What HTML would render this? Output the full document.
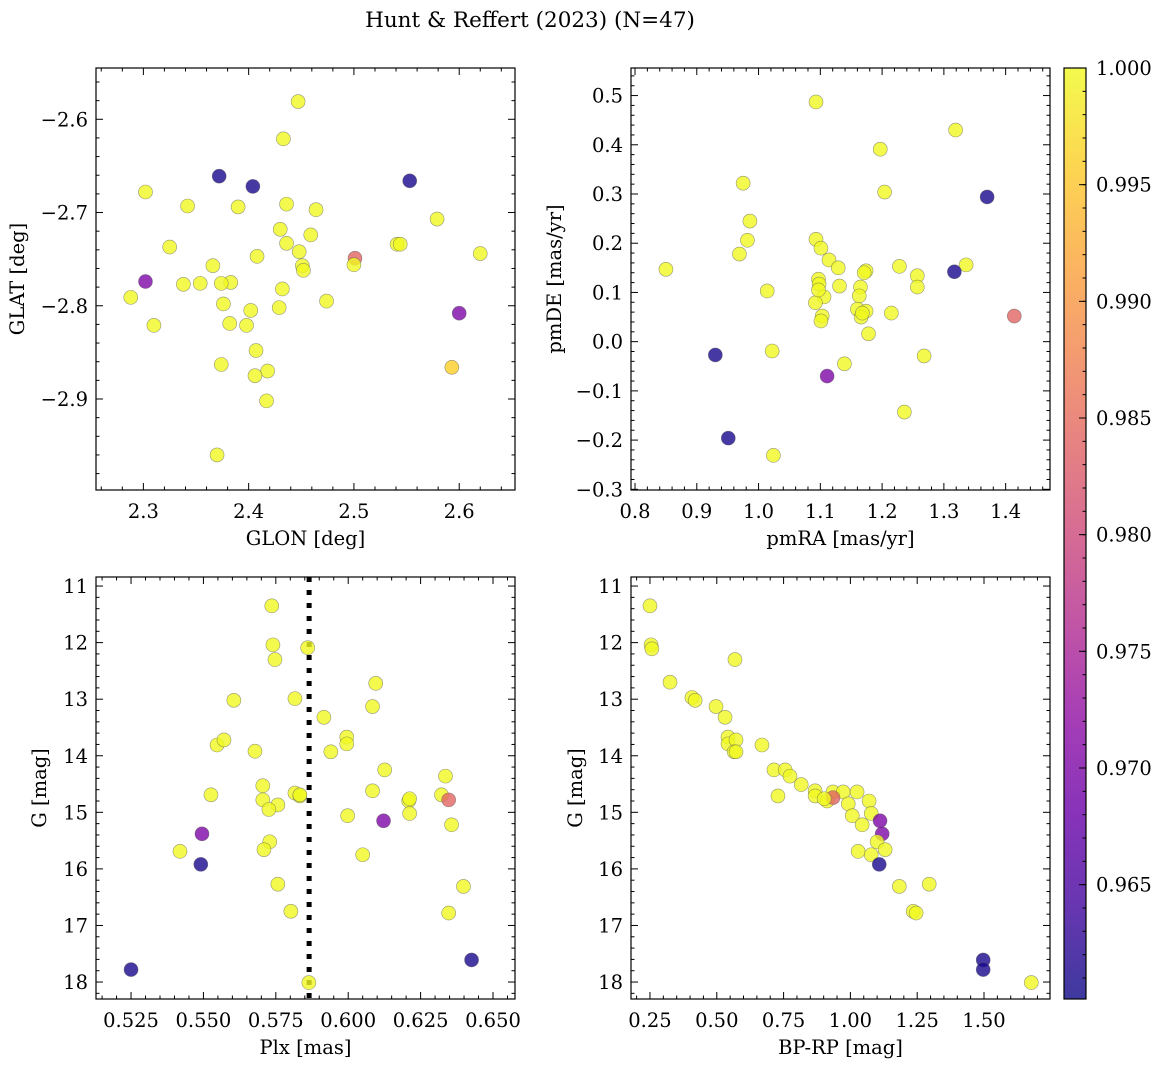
<!DOCTYPE html>
<html><head><meta charset="utf-8">
<style>
html,body{margin:0;padding:0;background:#fff;}
svg{display:block;font-family:"DejaVu Serif","Liberation Serif",serif;}
</style></head>
<body>
<svg id="fig" width="1161" height="1067" viewBox="0 0 1161 1067" xmlns="http://www.w3.org/2000/svg">
<text x="530" y="27" font-size="21.5" text-anchor="middle">Hunt &amp; Reffert (2023) (N=47)</text>
</svg>
<script>
// ---- data ----
const tlGlon = [2.447,2.433,2.302,2.372,2.404,2.553,2.342,2.390,2.436,2.464,2.579,2.430,2.436,2.459,2.325,2.408,2.448,2.541,2.544,2.620,2.501,2.500,2.451,2.452,2.366,2.338,2.354,2.383,2.302,2.374,2.432,2.288,2.474,2.376,2.402,2.429,2.382,2.398,2.310,2.600,2.407,2.374,2.418,2.406,2.593,2.417,2.370];
const tlGlat = [-2.581,-2.621,-2.678,-2.661,-2.672,-2.666,-2.693,-2.694,-2.691,-2.697,-2.707,-2.718,-2.733,-2.724,-2.737,-2.747,-2.742,-2.734,-2.734,-2.744,-2.749,-2.756,-2.757,-2.762,-2.757,-2.777,-2.776,-2.775,-2.774,-2.776,-2.782,-2.791,-2.795,-2.798,-2.805,-2.802,-2.819,-2.821,-2.821,-2.808,-2.848,-2.863,-2.870,-2.875,-2.866,-2.902,-2.960];
const tlProb = [1,1,1,0.961,0.961,0.961,1,1,1,1,1,1,1,1,1,1,1,1,1,1,0.984,1,1,1,1,1,1,1,0.970,1,1,1,1,1,1,1,1,1,1,0.970,1,1,1,1,0.996,1,1];

const trPmra = [1.093,1.319,1.197,0.975,1.204,1.370,0.986,0.982,1.093,1.101,0.969,1.114,1.228,1.129,1.336,1.174,1.171,1.317,0.850,1.257,1.097,1.098,1.131,1.165,1.257,1.014,1.106,1.163,1.092,1.160,1.174,1.215,1.103,1.101,1.166,1.414,1.178,1.022,1.268,0.930,1.139,1.111,1.236,0.951,1.024,1.168,1.097];
const trPmde = [0.487,0.430,0.391,0.322,0.304,0.294,0.245,0.206,0.208,0.190,0.178,0.166,0.153,0.150,0.156,0.144,0.140,0.142,0.147,0.134,0.127,0.117,0.113,0.111,0.111,0.103,0.091,0.093,0.079,0.066,0.062,0.058,0.052,0.042,0.050,0.052,0.016,-0.019,-0.029,-0.027,-0.045,-0.070,-0.143,-0.196,-0.231,0.058,0.105];
const trProb = [1,1,1,1,1,0.961,1,1,1,1,1,1,1,1,1,1,1,0.961,1,1,1,1,1,1,1,1,1,1,1,1,1,1,1,1,1,0.984,1,1,1,0.961,1,0.970,1,0.961,1,1,1];

const blPlx = [0.5736,0.5740,0.5747,0.5860,0.6095,0.5816,0.5605,0.5916,0.6084,0.5995,0.5995,0.5940,0.5547,0.5571,0.5678,0.5705,0.6126,0.6336,0.6084,0.5816,0.5833,0.6322,0.5705,0.5757,0.5726,0.5526,0.6209,0.6212,0.6122,0.5998,0.6347,0.6357,0.5729,0.5495,0.5709,0.5419,0.6050,0.5491,0.5757,0.6398,0.5802,0.6347,0.5864,0.5250,0.6426,0.5833,0.6212];
const blG = [11.35,12.04,12.30,12.09,12.72,12.99,13.02,13.32,13.13,13.67,13.79,13.93,13.81,13.72,13.92,14.53,14.25,14.36,14.62,14.66,14.71,14.69,14.78,14.87,14.95,14.69,14.80,15.02,15.15,15.06,14.78,15.22,15.52,15.38,15.66,15.69,15.75,15.92,16.27,16.31,16.75,16.78,18.01,17.78,17.61,14.69,14.76];
const blProb = [1,1,1,1,1,1,1,1,1,1,1,1,1,1,1,1,1,1,1,1,1,1,1,1,1,1,1,1,0.970,1,0.984,1,1,0.970,1,1,1,0.961,1,1,1,1,1,0.961,0.961,1,1];
const plxMedian = 0.5865;

const brBprp = [0.250,0.254,0.257,0.325,0.407,0.419,0.497,0.531,0.542,0.542,0.572,0.565,0.572,0.669,0.714,0.756,0.774,0.729,0.816,0.868,0.868,0.935,0.973,0.913,0.992,1.025,1.070,1.078,1.007,0.935,1.044,1.111,1.119,1.100,1.130,1.029,1.078,1.108,1.183,1.295,1.235,1.246,1.497,1.497,1.677,0.568,0.902];
const brG = [11.35,12.04,12.11,12.70,12.97,13.02,13.13,13.32,13.67,13.79,13.72,13.93,13.93,13.81,14.25,14.25,14.36,14.71,14.51,14.62,14.71,14.64,14.64,14.80,14.85,14.64,14.80,15.02,15.06,14.74,15.22,15.15,15.38,15.52,15.66,15.69,15.75,15.92,16.31,16.27,16.75,16.78,17.61,17.78,18.01,12.30,14.76];
const brProb = [1,1,1,1,1,1,1,1,1,1,1,1,1,1,1,1,1,1,1,1,1,1,1,1,1,1,1,1,1,0.984,1,0.970,0.970,1,1,1,1,0.961,1,1,1,1,0.961,0.961,1,1,1];

const cbTicks = [0.965,0.970,0.975,0.980,0.985,0.990,0.995,1.000];
const vmin = 0.9601, vmax = 1.0;

// ---- helpers ----
const NS = "http://www.w3.org/2000/svg";
const svg = document.getElementById('fig');
const FS = 19.5;
function mk(tag, attrs, parent){
  const e = document.createElementNS(NS, tag);
  for (const k in attrs) e.setAttribute(k, attrs[k]);
  (parent||svg).appendChild(e);
  return e;
}
const plasma = ["#0d0887","#41049d","#6a00a8","#8f0da4","#b12a90","#cc4778","#e16462","#f2844b","#fca636","#fcce25","#f0f921"];
function hex(h){return [parseInt(h.slice(1,3),16),parseInt(h.slice(3,5),16),parseInt(h.slice(5,7),16)];}
function cmap(v){
  let t = (v - vmin)/(vmax - vmin); t = Math.max(0, Math.min(1, t));
  const f = t*10, i = Math.min(9, Math.floor(f)), r = f - i;
  const a = hex(plasma[i]), b = hex(plasma[i+1]);
  return 'rgb(' + a.map((c,k)=>Math.round(c+(b[k]-c)*r)).join(',') + ')';
}
function fmt(v, d){ const s = v.toFixed(d); return v < 0 ? '\u2212' + s.slice(1) : s; }

function panel(o){
  const g = mk('g', {});
  
  
  const X = v => o.x0 + (v - o.xmin)/(o.xmax - o.xmin)*(o.x1 - o.x0);
  const Y = o.yinv ? (v => o.y0 + (v - o.ymin)/(o.ymax - o.ymin)*(o.y1 - o.y0))
                   : (v => o.y1 - (v - o.ymin)/(o.ymax - o.ymin)*(o.y1 - o.y0));
  const lo = Math.min(o.xmin,o.xmax), hi = Math.max(o.xmin,o.xmax);
  for (let k = Math.ceil(lo/o.xminor - 1e-6); k*o.xminor <= hi + 1e-9; k++){
    const v = k*o.xminor, px = X(v);
    const major = Math.abs(v/o.xmajor - Math.round(v/o.xmajor)) < 1e-6;
    const L = major ? 7 : 3.5;
    mk('line',{x1:px,x2:px,y1:o.y1,y2:o.y1-L,stroke:'#000','stroke-width':1},g);
    mk('line',{x1:px,x2:px,y1:o.y0,y2:o.y0+L,stroke:'#000','stroke-width':1},g);
    if (major){
      const t = mk('text',{x:px,y:o.y1+28,'font-size':FS,'text-anchor':'middle'},g);
      t.textContent = fmt(v, o.xdec);
      
      
    }
  }
  const ylo = Math.min(o.ymin,o.ymax), yhi = Math.max(o.ymin,o.ymax);
  for (let k = Math.ceil(ylo/o.yminor - 1e-6); k*o.yminor <= yhi + 1e-9; k++){
    const v = k*o.yminor, py = Y(v);
    const major = Math.abs(v/o.ymajor - Math.round(v/o.ymajor)) < 1e-6;
    const L = major ? 7 : 3.5;
    mk('line',{x1:o.x0,x2:o.x0+L,y1:py,y2:py,stroke:'#000','stroke-width':1},g);
    mk('line',{x1:o.x1,x2:o.x1-L,y1:py,y2:py,stroke:'#000','stroke-width':1},g);
    if (major){
      const t = mk('text',{x:o.x0-8,y:py+7,'font-size':FS,'text-anchor':'end'},g);
      t.textContent = fmt(v, o.ydec);
      
      
    }
  }
  if (o.vline !== undefined){
    const l = mk('line',{x1:X(o.vline),x2:X(o.vline),y1:o.y0,y2:o.y1,stroke:'#000','stroke-width':5,'stroke-dasharray':'5,8'},g);
    
    
  }
  for (let i = 0; i < o.xs.length; i++){
    const c = mk('circle',{cx:X(o.xs[i]),cy:Y(o.ys[i]),r:7,fill:cmap(o.ps[i]),'fill-opacity':0.8,stroke:'#555','stroke-opacity':0.6,'stroke-width':0.6},g);
    
    
  }
  const fr = mk('rect',{x:o.x0,y:o.y0,width:o.x1-o.x0,height:o.y1-o.y0,fill:'none',stroke:'#000','stroke-width':1.2},g);
  
  
  const xl = mk('text',{x:(o.x0+o.x1)/2,y:o.y1+55,'font-size':FS,'text-anchor':'middle'},g);
  xl.textContent = o.xlabel;
  
  
  const yx = o.ylx, yy = (o.y0+o.y1)/2;
  const yl = mk('text',{x:yx,y:yy,'font-size':FS,'text-anchor':'middle',transform:'rotate(-90 '+yx+' '+yy+')'},g);
  yl.textContent = o.ylabel;
  
  
}

panel({name:'glon-glat-panel',x0:96,x1:515,y0:68,y1:490,xmin:2.255,xmax:2.653,ymin:-2.9976,ymax:-2.545,
  xmajor:0.1,xminor:0.02,ymajor:0.1,yminor:0.02,xdec:1,ydec:1,xs:tlGlon,ys:tlGlat,ps:tlProb,
  xlabel:'GLON [deg]',ylabel:'GLAT [deg]',ylx:24});
panel({name:'pm-panel',x0:631,x1:1050,y0:68,y1:490,xmin:0.7935,xmax:1.4718,ymin:-0.3014,ymax:0.556,
  xmajor:0.1,xminor:0.02,ymajor:0.1,yminor:0.02,xdec:1,ydec:1,xs:trPmra,ys:trPmde,ps:trProb,
  xlabel:'pmRA [mas/yr]',ylabel:'pmDE [mas/yr]',ylx:561});
panel({name:'plx-g-panel',x0:96,x1:515,y0:577,y1:999,xmin:0.5129,xmax:0.6576,ymin:10.84,ymax:18.30,yinv:true,
  xmajor:0.025,xminor:0.005,ymajor:1,yminor:0.2,xdec:3,ydec:0,xs:blPlx,ys:blG,ps:blProb,vline:plxMedian,
  xlabel:'Plx [mas]',ylabel:'G [mag]',ylx:46});
panel({name:'cmd-panel',x0:631,x1:1050,y0:577,y1:999,xmin:0.179,xmax:1.747,ymin:10.84,ymax:18.30,yinv:true,
  xmajor:0.25,xminor:0.05,ymajor:1,yminor:0.2,xdec:2,ydec:0,xs:brBprp,ys:brG,ps:brProb,
  xlabel:'BP-RP [mag]',ylabel:'G [mag]',ylx:582});

// ---- colorbar ----
const cb = mk('g',{});


const defs = mk('defs',{},cb);
const grad = mk('linearGradient',{id:'pl',x1:0,y1:1,x2:0,y2:0},defs);
plasma.forEach((c,i)=>mk('stop',{offset:(i*10)+'%','stop-color':c},grad));
const cbx0 = 1064, cbx1 = 1086, cby0 = 68, cby1 = 999;
mk('rect',{x:cbx0,y:cby0,width:cbx1-cbx0,height:cby1-cby0,fill:'url(#pl)','fill-opacity':0.8},cb);
const CY = v => cby1 - (v - vmin)/(vmax - vmin)*(cby1 - cby0);
for (let k = Math.ceil(vmin/0.001); k <= 1000; k++){
  const py = CY(k/1000);
  mk('line',{x1:cbx1,x2:cbx1-3.5,y1:py,y2:py,stroke:'#000','stroke-width':1},cb);
}
cbTicks.forEach(v=>{
  const py = CY(v);
  mk('line',{x1:cbx1,x2:cbx1-7,y1:py,y2:py,stroke:'#000','stroke-width':1},cb);
  const t = mk('text',{x:cbx1+10,y:py+7,'font-size':FS},cb);
  t.textContent = v.toFixed(3);
  
  
});
mk('rect',{x:cbx0,y:cby0,width:cbx1-cbx0,height:cby1-cby0,fill:'none',stroke:'#000','stroke-width':1.2},cb);
</script>
</body></html>
